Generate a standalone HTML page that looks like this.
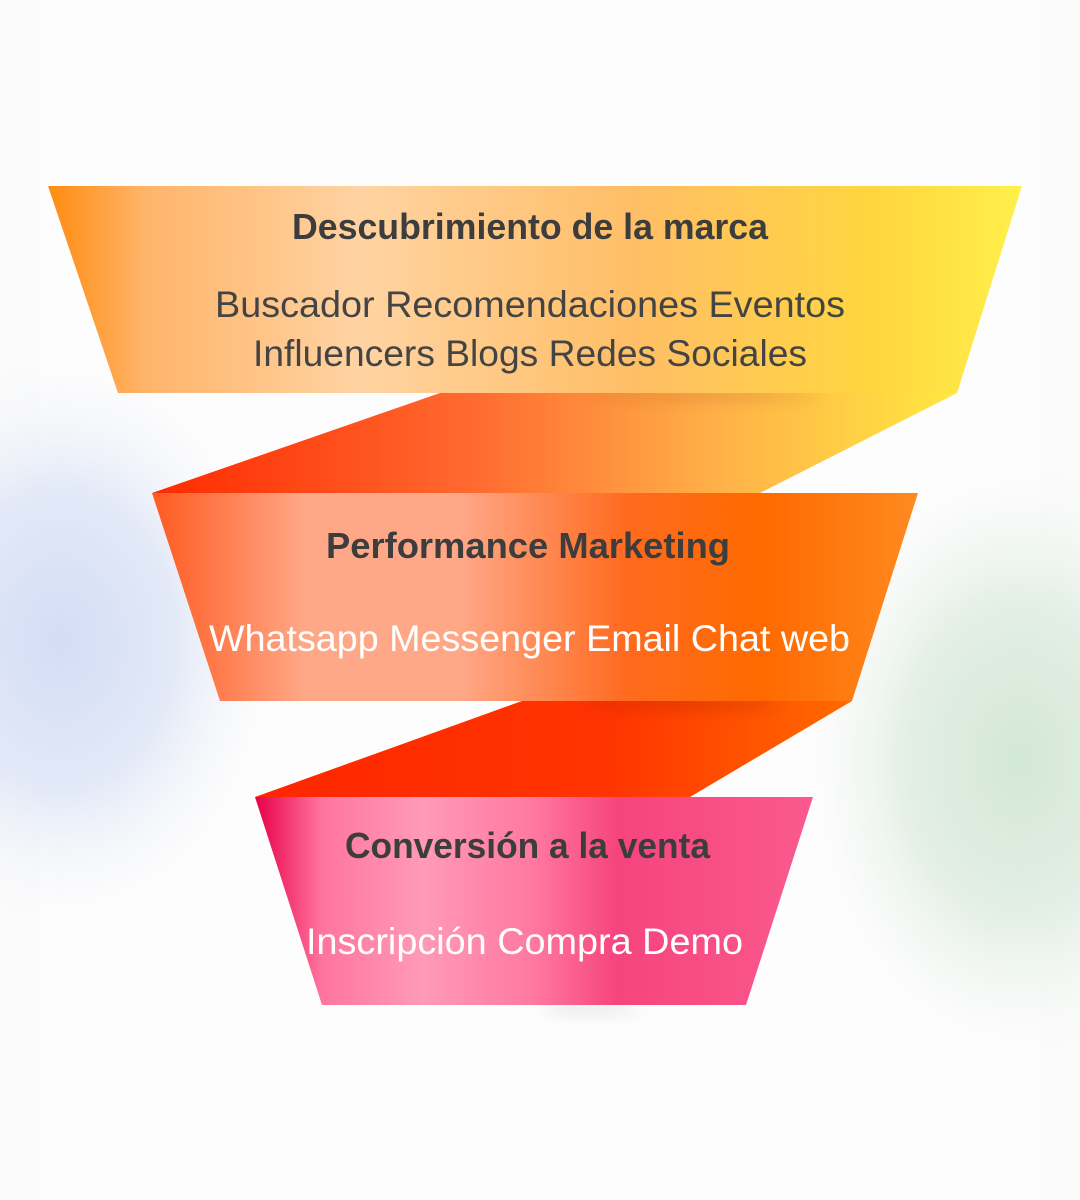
<!DOCTYPE html>
<html><head><meta charset="utf-8"><style>
html,body{margin:0;padding:0;width:1080px;height:1200px;overflow:hidden;background:#fbfbfb;font-family:"Liberation Sans",sans-serif}
</style></head><body>
<svg width="1080" height="1200" viewBox="0 0 1080 1200" xmlns="http://www.w3.org/2000/svg">
<defs>
<radialGradient id="bl" cx="0.5" cy="0.5" r="0.5"><stop offset="0" stop-color="#d2ddf5"/><stop offset="0.5" stop-color="#e3e9f7"/><stop offset="1" stop-color="#fbfbfb" stop-opacity="0"/></radialGradient>
<radialGradient id="gr" cx="0.5" cy="0.5" r="0.5"><stop offset="0" stop-color="#d3e8d6"/><stop offset="0.5" stop-color="#e4efe5"/><stop offset="1" stop-color="#fbfbfb" stop-opacity="0"/></radialGradient>
<linearGradient id="g1" x1="0" x2="1"><stop offset="0" stop-color="#ff8c10"/><stop offset="0.1" stop-color="#ffb46a"/><stop offset="0.32" stop-color="#ffd3a2"/><stop offset="0.6" stop-color="#ffbe66"/><stop offset="0.85" stop-color="#ffd63e"/><stop offset="1" stop-color="#fff04a"/></linearGradient>
<linearGradient id="c1" x1="0" x2="1"><stop offset="0" stop-color="#ff2a00"/><stop offset="0.4" stop-color="#ff6a30"/><stop offset="0.7" stop-color="#ffb048"/><stop offset="1" stop-color="#ffe840"/></linearGradient>
<linearGradient id="g2" x1="0" x2="1"><stop offset="0" stop-color="#ff5a20"/><stop offset="0.2" stop-color="#ffa888"/><stop offset="0.4" stop-color="#ffa888"/><stop offset="0.62" stop-color="#ff6a1e"/><stop offset="0.8" stop-color="#ff6a00"/><stop offset="1" stop-color="#ff8a20"/></linearGradient>
<linearGradient id="c2" x1="0" x2="1"><stop offset="0" stop-color="#ff2600"/><stop offset="0.6" stop-color="#ff3500"/><stop offset="1" stop-color="#ff6a00"/></linearGradient>
<linearGradient id="g3" x1="0" x2="1"><stop offset="0" stop-color="#e8004a"/><stop offset="0.12" stop-color="#ff74a0"/><stop offset="0.3" stop-color="#ff9ab8"/><stop offset="0.5" stop-color="#ff78a0"/><stop offset="0.65" stop-color="#f6447e"/><stop offset="1" stop-color="#fa5a8e"/></linearGradient>
<filter id="bf" x="-50%" y="-300%" width="200%" height="700%"><feGaussianBlur stdDeviation="7"/></filter>
</defs>
<rect x="40" y="0" width="1000" height="1200" fill="#fdfdfd"/>
<ellipse cx="60" cy="640" rx="230" ry="300" fill="url(#bl)"/>
<ellipse cx="1020" cy="760" rx="230" ry="320" fill="url(#gr)"/>
<polygon points="440,393 957,393 760,493 152,493" fill="url(#c1)"/>
<ellipse cx="700" cy="396" rx="120" ry="5" fill="#b06a20" opacity="0.3" filter="url(#bf)"/>
<polygon points="48,186 1022,186 957,393 118,393" fill="url(#g1)"/>
<polygon points="522,701 852,701 690,797 255,797" fill="url(#c2)"/>
<ellipse cx="680" cy="704" rx="100" ry="5" fill="#a02000" opacity="0.35" filter="url(#bf)"/>
<polygon points="152,493 918,493 852,701 220,701" fill="url(#g2)"/>
<ellipse cx="590" cy="1010" rx="50" ry="3" fill="#999" opacity="0.35" filter="url(#bf)"/>
<polygon points="255,797 813,797 746,1005 322,1005" fill="url(#g3)"/>
<g font-family="Liberation Sans, sans-serif">
<text x="292" y="239" font-size="36" font-weight="bold" fill="#3d3d3d" textLength="476" lengthAdjust="spacingAndGlyphs">Descubrimiento de la marca</text>
<text x="215" y="317" font-size="37" fill="#444" textLength="630" lengthAdjust="spacingAndGlyphs">Buscador Recomendaciones Eventos</text>
<text x="253" y="366" font-size="37" fill="#444" textLength="554" lengthAdjust="spacingAndGlyphs">Influencers Blogs Redes Sociales</text>
<text x="326" y="558" font-size="36" font-weight="bold" fill="#3d3d3d" textLength="404" lengthAdjust="spacingAndGlyphs">Performance Marketing</text>
<text x="209" y="651" font-size="37" fill="#fff" textLength="641" lengthAdjust="spacingAndGlyphs">Whatsapp Messenger Email Chat web</text>
<text x="345" y="858" font-size="36" font-weight="bold" fill="#3d3d3d" textLength="365" lengthAdjust="spacingAndGlyphs">Conversión a la venta</text>
<text x="306" y="954" font-size="37" fill="#fff" textLength="437" lengthAdjust="spacingAndGlyphs">Inscripción Compra Demo</text>
</g>
</svg>
</body></html>
